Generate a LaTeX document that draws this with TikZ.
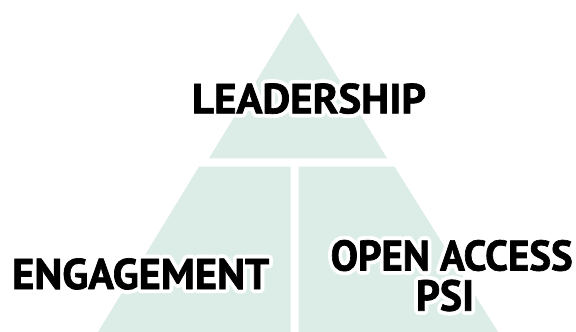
\documentclass[tikz,border=0pt]{standalone}
\usepackage{fontspec}
\setmainfont{PT Sans}
\newfontfamily\heavyfont[FakeBold=1.6]{PT Sans Bold}
\usepackage{graphicx}
\usepackage[copies]{contour}
\contourlength{0.9pt}
\definecolor{mint}{HTML}{DCECE7}
\newcommand\fitlabel[3]{\resizebox{#1}{#2}{\contour{white}{\heavyfont #3}}}
\tikzset{
  block/.style={fill=mint, draw=none},
  label/.style={inner sep=0pt, text=black, anchor=base}
}
\begin{document}
\begin{tikzpicture}[x=1pt,y=-1pt]
\useasboundingbox (0,0) rectangle (576,332);
\fill[white] (0,0) rectangle (576,332);
% pyramid pieces
\path[block] (298,12.7) -- (387,158.3) -- (209,158.3) -- cycle;
\path[block] (199,166.7) -- (290.7,166.7) -- (290.7,332) -- (98,332) -- cycle;
\path[block] (298.7,166.7) -- (394.5,166.7) -- (498,332) -- (298.7,332) -- cycle;
% labels
\node[label] (lead) at (309,113.3) {\fitlabel{234pt}{30pt}{LEADERSHIP}};
\node[label] (eng) at (140.7,289) {\fitlabel{257pt}{30.7pt}{ENGAGEMENT}};
\node[label] (oa) at (451.7,270.5) {\fitlabel{242pt}{30.5pt}{OPEN ACCESS}};
\node[label] (psi) at (445,310.7) {\fitlabel{58pt}{31pt}{PSI}};
\end{tikzpicture}
\end{document}
